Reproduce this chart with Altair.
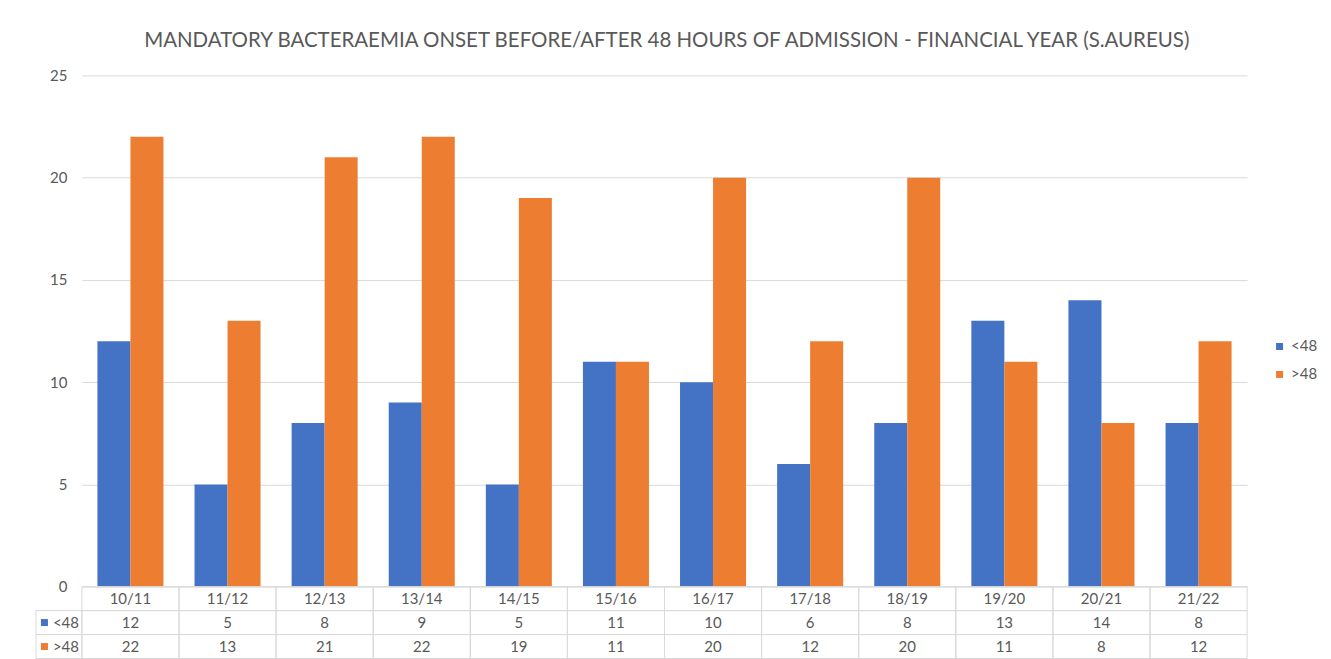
import altair as alt
import pandas as pd

years = ["10/11", "11/12", "12/13", "13/14", "14/15", "15/16",
         "16/17", "17/18", "18/19", "19/20", "20/21", "21/22"]
under48 = [12, 5, 8, 9, 5, 11, 10, 6, 8, 13, 14, 8]
over48 = [22, 13, 21, 22, 19, 11, 20, 12, 20, 11, 8, 12]
series = ["<48", ">48"]
colors = ["#4472C4", "#ED7D31"]
title_text = "MANDATORY BACTERAEMIA ONSET BEFORE/AFTER 48 HOURS OF ADMISSION - FINANCIAL YEAR (S.AUREUS)"

FONT = "Lato"
GRAY = "#595959"
GRID = "#D9D9D9"
W, H = 1167, 512
ROWH = 24
HDRW = 46

rows = []
for yr, a, b in zip(years, under48, over48):
    rows.append({"year": yr, "series": "<48", "value": a})
    rows.append({"year": yr, "series": ">48", "value": b})
df = pd.DataFrame(rows)

row_keys = ["hdr", "<48", ">48"]
trows = []
for yr, a, b in zip(years, under48, over48):
    trows.append({"year": yr, "row": "hdr", "text": yr})
    trows.append({"year": yr, "row": "<48", "text": str(a)})
    trows.append({"year": yr, "row": ">48", "text": str(b)})
tdf = pd.DataFrame(trows)

hdf = pd.DataFrame({"col": ["h", "h"], "row": series, "text": series, "hex": colors})

color = alt.Color(
    "series:N",
    scale=alt.Scale(domain=series, range=colors),
    legend=alt.Legend(
        title=None, orient="none", legendX=1192, legendY=264,
        symbolType="square", symbolSize=49, symbolStrokeWidth=0,
        labelFontSize=15, labelColor=GRAY, labelFont=FONT, rowPadding=12,
    ),
)

bars = alt.Chart(df).mark_bar().encode(
    x=alt.X("year:N", sort=years,
            scale=alt.Scale(paddingInner=0.32, paddingOuter=0.16), axis=None),
    xOffset=alt.XOffset("series:N", sort=series),
    y=alt.Y("value:Q", scale=alt.Scale(domain=[0, 25]),
            axis=alt.Axis(values=[0, 5, 10, 15, 20, 25], title=None, domain=False,
                          ticks=False, labelPadding=15, grid=True, gridColor=GRID,
                          labelColor=GRAY, labelFontSize=15, labelFont=FONT)),
    color=color,
).properties(width=W, height=H)

spacer = alt.Chart(pd.DataFrame({"a": [0]})).mark_point(opacity=0).properties(
    width=HDRW, height=H)

tbase = alt.Chart(tdf).encode(
    x=alt.X("year:N", sort=years, axis=None,
            scale=alt.Scale(paddingInner=0, paddingOuter=0)),
    y=alt.Y("row:N", sort=row_keys, axis=None,
            scale=alt.Scale(domain=row_keys, paddingInner=0, paddingOuter=0)),
)
table = alt.layer(
    tbase.mark_rect(fill="white", fillOpacity=0, stroke=GRID, strokeWidth=1),
    tbase.mark_text(font=FONT, fontSize=15, color=GRAY).encode(text="text:N"),
).properties(width=W, height=ROWH * 3)

hbase = alt.Chart(hdf).encode(
    x=alt.X("col:N", axis=None, scale=alt.Scale(paddingInner=0, paddingOuter=0)),
    y=alt.Y("row:N", sort=row_keys, axis=None,
            scale=alt.Scale(domain=row_keys, paddingInner=0, paddingOuter=0)),
)
header = alt.layer(
    hbase.mark_rect(fill="white", fillOpacity=0, stroke=GRID, strokeWidth=1),
    hbase.mark_square(size=49, opacity=1, xOffset=-14.5).encode(
        color=alt.Color("hex:N", scale=None)),
    hbase.mark_text(font=FONT, fontSize=15, color=GRAY, align="left", dx=-6).encode(
        text="text:N"),
).properties(width=HDRW, height=ROWH * 3)

chart = alt.concat(
    spacer, bars, header, table, columns=2, spacing=0, bounds="flush",
).resolve_scale(
    x="independent", y="independent", color="independent"
).properties(
    title=alt.TitleParams(text=title_text, fontSize=20.5, font=FONT, color=GRAY,
                          fontWeight="normal", offset=17, anchor="middle", dx=-10),
    padding={"left": 27, "top": 22, "right": 5, "bottom": 5},
).configure_view(stroke=None)

chart.save("out.html", embed_options={"renderer": "svg", "actions": False})
